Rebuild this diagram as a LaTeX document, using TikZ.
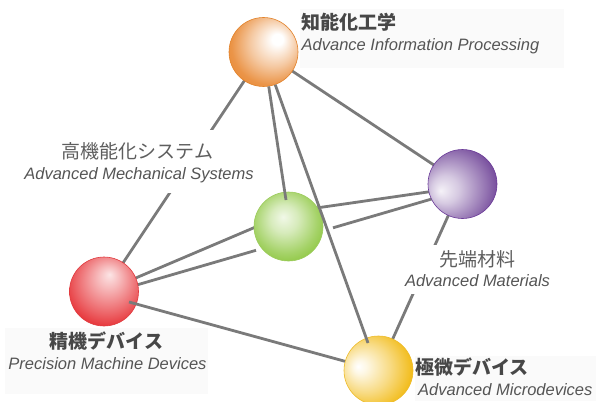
\documentclass[tikz,border=0pt]{standalone}
\usepackage{fontspec}
\setmainfont{Liberation Sans}
\newfontfamily\cjk{Noto Sans CJK JP}
\pgfdeclarelayer{bg}
\pgfsetlayers{bg,main}
\definecolor{orC}{HTML}{E8862F}
\definecolor{orD}{HTML}{E2822A}
\definecolor{puC}{HTML}{5A2888}
\definecolor{puD}{HTML}{6A3A98}
\definecolor{grC}{HTML}{8CC63E}
\definecolor{grD}{HTML}{9CCB5C}
\definecolor{reC}{HTML}{E5262B}
\definecolor{reD}{HTML}{E03A3E}
\definecolor{yeC}{HTML}{F2BD1E}
\definecolor{yeD}{HTML}{EDBB2A}
\definecolor{lineC}{HTML}{7A7A7A}
\definecolor{txtB}{HTML}{474747}
\definecolor{txtR}{HTML}{5E5E5E}
\definecolor{txtE}{HTML}{555555}
\pgfdeclareradialshading{orball}{\pgfpoint{11bp}{10bp}}{color(0bp)=(white); color(4bp)=(white); color(17bp)=(orC!45!white); color(28bp)=(orC!88!white); color(37bp)=(orC); color(50bp)=(orC)}
\pgfdeclareradialshading{puball}{\pgfpoint{-16bp}{-5bp}}{color(0bp)=(puC!6!white); color(10bp)=(puC!25!white); color(25bp)=(puC!65!white); color(37.5bp)=(puC); color(50bp)=(puC)}
\pgfdeclareradialshading{grball}{\pgfpoint{-4bp}{7bp}}{color(0bp)=(grC!12!white); color(10bp)=(grC!35!white); color(23bp)=(grC!78!white); color(31bp)=(grC); color(50bp)=(grC)}
\pgfdeclareradialshading{reball}{\pgfpoint{4bp}{12.5bp}}{color(0bp)=(reC!12!white); color(8bp)=(reC!32!white); color(23bp)=(reC!72!white); color(33bp)=(reC); color(50bp)=(reC)}
\pgfdeclareradialshading{yeball}{\pgfpoint{-15bp}{3bp}}{color(0bp)=(white); color(5bp)=(yeC!12!white); color(18bp)=(yeC!55!white); color(30bp)=(yeC); color(50bp)=(yeC)}
\begin{document}
\begin{tikzpicture}[x=1pt,y=-1pt,
  conn/.style={draw=lineC, line width=2.8pt},
  sphere/.style={circle, inner sep=0pt, minimum size=69pt, line width=0.6pt, shade},
  jpb/.style={inner sep=0pt, text=txtB, font=\cjk\bfseries\fontsize{19}{21}\selectfont},
  jpr/.style={inner sep=0pt, text=txtR, font=\cjk\fontsize{19}{21}\selectfont},
  en/.style={inner sep=0pt, text=txtE, font=\itshape\fontsize{16.5}{18}\selectfont},
  halo/.style={fill=white, draw=none},
  faint/.style={fill=black!2, draw=none}]
\useasboundingbox (0,0) rectangle (596,401);
% faint label backgrounds
\fill[faint] (300,9) rectangle (564,68);
\fill[faint] (5,328) rectangle (208,394);
\fill[faint] (415,356) rectangle (596,401);
% white gaps behind middle labels
\fill[halo] (15,130) rectangle (262,193);
\fill[halo] (398,245) rectangle (558,294);
% labels
\node[jpb, anchor=west] (t1) at (301,22) {知能化工学};
\node[en, anchor=base west] (e1) at (301.5,51) {Advance Information Processing};
\node[jpr, anchor=center] (t2) at (137.5,151) {高機能化システム};
\node[en, anchor=base] (e2) at (139,179) {Advanced Mechanical Systems};
\node[jpb, anchor=center] (t3) at (106.5,341) {精機デバイス};
\node[en, anchor=base] (e3) at (107.5,369) {Precision Machine Devices};
\node[jpr, anchor=center] (t4) at (477.5,259) {先端材料};
\node[en, anchor=base] (e4) at (477.5,286.5) {Advanced Materials};
\node[jpb, anchor=west] (t5) at (415,367.5) {極微デバイス};
\node[en, anchor=base west] (e5) at (418,395) {Advanced Microdevices};
% spheres
\node[sphere, shading=orball, draw=orD] (orange) at (263.5,52) {};
\node[sphere, shading=puball, draw=puD] (purple) at (462.5,184) {};
\node[sphere, shading=grball, draw=grD] (green) at (288.5,226.5) {};
\node[sphere, shading=reball, draw=reD] (red) at (104,291.5) {};
\node[sphere, shading=yeball, draw=yeD] (yellow) at (378.5,370.5) {};
% connector anchor points
\coordinate (gTop) at (288.5,212);
\coordinate (pLeft) at (462.5,187);
\coordinate (gRG) at (288.5,213);
\coordinate (rRP) at (104,294.5);
\coordinate (gapA) at (256,250.3);
\coordinate (gapB) at (333,227.8);
\coordinate (pRP) at (462.5,190);
\coordinate (gEnd) at (286,200);
\coordinate (yEnd) at (368,343);
\coordinate (rStart) at (129,302);
% connectors behind spheres
\begin{pgfonlayer}{bg}
\draw[conn] (orange.center) -- (red.center);
\draw[conn] (orange.center) -- (purple.center);
\draw[conn] (gTop) -- (pLeft);
\draw[conn] (red.center) -- (gRG);
\draw[conn] (rRP) -- (gapA);
\draw[conn] (gapB) -- (pRP);
\draw[conn] (purple.center) -- (yellow.center);
\end{pgfonlayer}
% connectors over spheres
\draw[conn] (orange) -- (gEnd);
\draw[conn] (orange) -- (yEnd);
\draw[conn] (rStart) -- (yellow);
\end{tikzpicture}
\end{document}
